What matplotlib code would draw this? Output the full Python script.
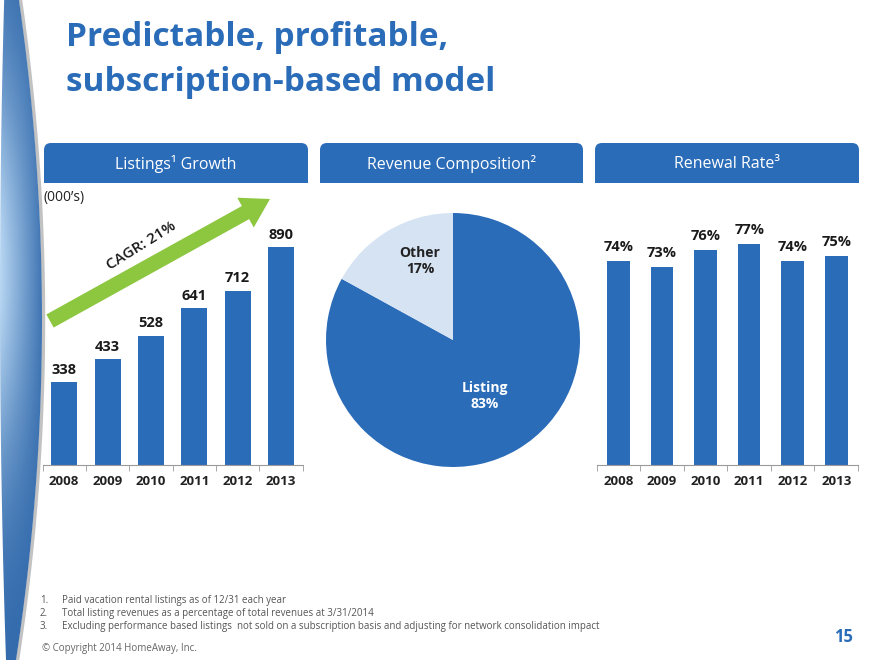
import numpy as np
import matplotlib
matplotlib.use("Agg")
import matplotlib.pyplot as plt
import matplotlib.patches as mpatches

plt.rcParams['font.family'] = ['Open Sans', 'DejaVu Sans']

# data
years = ['2008', '2009', '2010', '2011', '2012', '2013']
listings = [338, 433, 528, 641, 712, 890]
renewal = [74, 73, 76, 77, 74, 75]
rev_labels = ['Listing', 'Other']
rev_share = [83, 17]
footnotes = ['Paid vacation rental listings as of 12/31 each year',
             'Total listing revenues as a percentage of total revenues at 3/31/2014',
             'Excluding performance based listings  not sold on a subscription basis and adjusting for network consolidation impact']

BLUE = '#2b6cb9'
LIGHT = '#d5e3f3'
GREEN = '#8dc63f'
W, H = 880, 660

def px(x0, y0, x1, y1):
    # pixel box (top-left origin) -> figure fraction rect
    return [x0 / W, 1 - y1 / H, (x1 - x0) / W, (y1 - y0) / H]

fig = plt.figure(figsize=(8.8, 6.6), dpi=100)
fig.patch.set_facecolor('white')

# background layer in pixel coords
bg = fig.add_axes([0, 0, 1, 1])
bg.set_xlim(0, W)
bg.set_ylim(H, 0)
bg.axis('off')

# left swoosh
ys = np.linspace(0, H, 40)
left = 6 * ((ys - 300) / 360) ** 2
right = 42 - 26 * ((ys - 320) / 340) ** 2
verts = list(zip(left, ys)) + list(zip(right[::-1], ys[::-1]))
clip = mpatches.Polygon(verts, closed=True, facecolor='none', edgecolor='none')
bg.add_patch(clip)
gx, gy = np.meshgrid(np.linspace(0, 50, 60), np.linspace(0, H, 200))
L = np.exp(-((gy - 270) / 210) ** 2) * np.clip(1 - gx / 48, 0, 1)
dark = np.array([0.19, 0.41, 0.67])
light = np.array([0.72, 0.84, 0.95])
img = dark + (light - dark) * L[..., None]
im = bg.imshow(img, extent=(0, 50, H, 0), aspect='auto', zorder=1)
im.set_clip_path(clip)
bg.plot(right + 1.5, ys, color='#9a9a9a', lw=2.5, alpha=0.6, zorder=0)
bg.set_xlim(0, W)
bg.set_ylim(H, 0)

# title
bg.text(66, 46, 'Predictable, profitable,', fontsize=24, fontweight='bold',
        color=BLUE, va='baseline')
bg.text(66, 91, 'subscription-based model', fontsize=24, fontweight='bold',
        color=BLUE, va='baseline')

# panel headers
headers = [('Listings¹ Growth', 44, 308), ('Revenue Composition²', 320, 583),
           ('Renewal Rate³', 595, 859)]
for txt, x0, x1 in headers:
    bg.add_patch(mpatches.FancyBboxPatch((x0, 143), x1 - x0, 40,
                 boxstyle='round,pad=0,rounding_size=7', fc=BLUE, ec='none'))
    bg.add_patch(mpatches.Rectangle((x0, 170), x1 - x0, 13, fc=BLUE, ec='none'))
    bg.text((x0 + x1) / 2, 164, txt, fontsize=11.5, color='white',
            ha='center', va='center')

bg.text(44, 198, '(000’s)', fontsize=10, color='#222222', va='center')

# CAGR arrow
bg.add_patch(mpatches.FancyArrow(50, 321, 220, -122, width=15, head_width=34,
             head_length=28, length_includes_head=True, fc=GREEN, ec='none'))
bg.text(141, 246, 'CAGR: 21%', fontsize=11, fontweight='semibold', color='#1a1a1a',
        rotation=32, ha='center', va='center')

def style_bars(ax):
    for s in ['top', 'right', 'left']:
        ax.spines[s].set_visible(False)
    ax.spines['bottom'].set_color('#9a9a9a')
    ax.spines['bottom'].set_linewidth(0.8)
    ax.set_yticks([])
    ax.set_xlim(-0.5, 5.5)
    ax.set_xticks(range(len(years)))
    ax.set_xticklabels(years, fontsize=9.5, fontweight='bold', color='#222222')
    ax.tick_params(axis='x', length=0, pad=7)
    ax.set_xticks(np.arange(-0.5, 6, 1), minor=True)
    ax.tick_params(axis='x', which='minor', length=4, color='#9a9a9a', direction='out')
    ax.patch.set_alpha(0)

# listings bars
ax1 = fig.add_axes(px(42.5, 220.6, 302.7, 465))
ax1.bar(range(len(years)), listings, width=0.6, color=BLUE)
ax1.set_ylim(0, 1000)
style_bars(ax1)
for i, v in enumerate(listings):
    ax1.annotate(str(v), (i, v), xytext=(0, 4), textcoords='offset points',
                 ha='center', va='bottom', fontsize=10.5, fontweight='bold', color='#1a1a1a')

# revenue pie
ax2 = fig.add_axes(px(326, 213, 580, 467))
ax2.pie(rev_share, colors=[BLUE, LIGHT], startangle=90, counterclock=False,
        wedgeprops=dict(linewidth=0))
ax2.set_xlim(-1, 1)
ax2.set_ylim(-1, 1)
ax2.text(0.25, -0.44, f'{rev_labels[0]}\n{rev_share[0]}%', ha='center', va='center',
         fontsize=10, fontweight='bold', color='white', linespacing=1.2)
ax2.text(-0.26, 0.62, f'{rev_labels[1]}\n{rev_share[1]}%', ha='center', va='center',
         fontsize=10, fontweight='bold', color='#222222', linespacing=1.2)

# renewal bars
ax3 = fig.add_axes(px(596.7, 226, 858, 465))
ax3.bar(range(len(years)), renewal, width=0.52, color=BLUE)
ax3.set_ylim(39.5, 80)
style_bars(ax3)
for i, v in enumerate(renewal):
    ax3.annotate(f'{v}%', (i, v), xytext=(0, 5), textcoords='offset points',
                 ha='center', va='bottom', fontsize=10.5, fontweight='bold', color='#1a1a1a')

# footnotes
for k, note in enumerate(footnotes):
    y = 603 + 13 * k
    bg.text(40, y, f'{k + 1}.', fontsize=7, color='#555555', va='baseline')
    bg.text(62, y, note, fontsize=7, color='#555555', va='baseline')
bg.text(42, 651, '© Copyright 2014 HomeAway, Inc.', fontsize=7, color='#666666', va='baseline')
bg.text(843, 637, '15', fontsize=12, fontweight='bold', color=BLUE, ha='center', va='center')

fig.savefig('out.png', dpi=100)
